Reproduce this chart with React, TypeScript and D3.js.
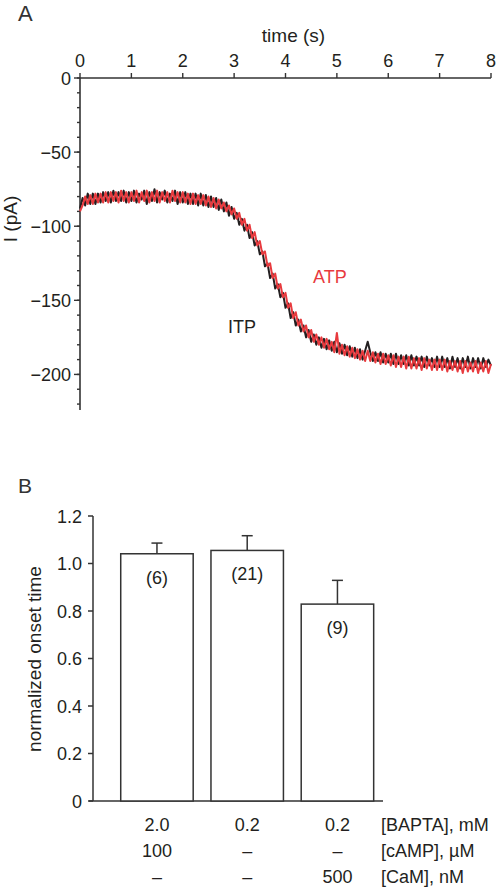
import React from "react";
import * as d3 from "d3";

// ---------- Panel A data (time step 0.05 s, 0..8 s) ----------
const timeStep = 0.05;
const itpTrace: number[] = [
  -88, -81, -86, -78, -85, -78, -85, -78, -84, -77, -83, -77, -84, -76, -83, -77, -83, -76, -84, -77,
  -83, -76, -84, -78, -82, -76, -85, -77, -83, -75, -84, -77, -82, -76, -84, -78, -83, -76, -85, -77,
  -84, -77, -85, -78, -85, -78, -86, -78, -86, -79, -87, -80, -87, -81, -89, -82, -90, -84, -93, -87,
  -95, -91, -99, -95, -103, -99, -108, -104, -113, -110, -119, -117, -127, -125, -135, -132, -142, -139, -148, -145,
  -155, -152, -162, -158, -167, -163, -171, -167, -175, -170, -178, -173, -180, -175, -182, -176, -183, -177, -184, -178,
  -185, -179, -186, -180, -187, -181, -188, -182, -189, -183, -190, -184, -178, -185, -191, -185, -191, -185, -192, -186,
  -192, -186, -193, -186, -193, -187, -193, -187, -194, -187, -194, -188, -194, -188, -195, -188, -194, -189, -195, -188,
  -195, -188, -195, -189, -196, -188, -195, -189, -196, -189, -195, -188, -196, -189, -195, -189, -196, -189, -195, -190, -194,
];
const atpTrace: number[] = [
  -90, -86, -80, -85, -79, -85, -78, -84, -78, -84, -77, -84, -77, -83, -77, -84, -76, -83, -77, -84,
  -77, -83, -76, -84, -77, -83, -76, -84, -77, -83, -76, -84, -77, -83, -77, -84, -76, -83, -77, -84,
  -77, -84, -78, -85, -78, -85, -79, -85, -79, -86, -80, -87, -81, -88, -82, -88, -84, -90, -86, -92,
  -88, -95, -91, -99, -95, -103, -99, -108, -104, -113, -110, -119, -117, -127, -125, -135, -132, -142, -139, -148,
  -145, -155, -152, -162, -158, -167, -163, -171, -167, -175, -170, -178, -173, -180, -175, -182, -176, -183, -178, -185,
  -172, -186, -180, -187, -181, -188, -182, -189, -183, -190, -184, -191, -184, -191, -185, -192, -186, -193, -186, -193,
  -187, -194, -187, -195, -188, -195, -188, -196, -188, -196, -189, -196, -189, -197, -189, -196, -190, -197, -190, -197,
  -190, -197, -190, -198, -191, -197, -191, -198, -191, -199, -191, -198, -192, -198, -191, -199, -192, -198, -191, -199, -193,
];
const timeTicks = [0, 1, 2, 3, 4, 5, 6, 7, 8];
const currentTicks = [0, -50, -100, -150, -200];
const currentMinorTicks = [0, -10, -20, -30, -40, -50, -60, -70, -80, -90, -100, -110, -120, -130, -140, -150, -160, -170, -180, -190, -200, -210, -220];

// ---------- Panel B data ----------
const conditions = ["c1", "c2", "c3"];
const onsetMeans = [1.041, 1.055, 0.829];
const onsetErrors = [0.045, 0.062, 0.1];
const nLabels = ["(6)", "(21)", "(9)"];
const onsetTicks = [0, 0.2, 0.4, 0.6, 0.8, 1.0, 1.2];
const onsetTickLabels = ["0", "0.2", "0.4", "0.6", "0.8", "1.0", "1.2"];
const tableRowLabels = ["[BAPTA], mM", "[cAMP], \u00b5M", "[CaM], nM"];
const bapta = ["2.0", "0.2", "0.2"];
const camp = ["100", "\u2013", "\u2013"];
const cam = ["\u2013", "\u2013", "500"];

const FONT = "'Liberation Sans', Arial, Helvetica, sans-serif";
const AXIS = "#333333";
const RED = "#e83a3e";
const BLACK = "#231f20";
const FS = 18;

export default function App() {
  // Panel A scales
  const x = d3.scaleLinear().domain([0, 8]).range([80, 491]);
  const y = d3.scaleLinear().domain([-224, 0]).range([410, 78]);
  const line = d3
    .line<number>()
    .x((_, i) => x(i * timeStep))
    .y((v) => y(v));

  // Panel B scales
  const xb = d3.scaleBand<string>().domain(conditions).range([111.7, 382.7]).paddingInner(0.197).paddingOuter(0.1);
  const yb = d3.scaleLinear().domain([0, 1.2]).range([801, 516]);
  const tableRows = [bapta, camp, cam];
  const rowY = [831, 857, 883];

  return (
    <svg
      width={498}
      height={889}
      style={{ position: "absolute", left: 0, top: 0, background: "#fff" }}
      fontFamily={FONT}
    >
      <rect x={0} y={0} width={498} height={889} fill="#fff" />
      {/* Panel A */}
      <text x={18} y={21} fontSize={22} fill={AXIS}>A</text>
      <text x={x(4) + 8} y={42} fontSize={19} textAnchor="middle" fill={BLACK}>time (s)</text>
      {timeTicks.map((t) => (
        <g key={"xt" + t}>
          <line x1={x(t)} x2={x(t)} y1={y(0)} y2={y(0) - 5} stroke={AXIS} strokeWidth={1.4} />
          <text x={x(t)} y={y(0) - 11} fontSize={FS} textAnchor="middle" fill={BLACK}>{t}</text>
        </g>
      ))}
      <line x1={x(0)} x2={x(8)} y1={y(0)} y2={y(0)} stroke={AXIS} strokeWidth={1.6} />
      <line x1={x(0)} x2={x(0)} y1={y(0)} y2={y(-224)} stroke={AXIS} strokeWidth={1.6} />
      {currentMinorTicks.map((v) => (
        <line key={"ym" + v} x1={x(0) - 3} x2={x(0)} y1={y(v)} y2={y(v)} stroke={AXIS} strokeWidth={1.4} />
      ))}
      {currentTicks.map((v) => (
        <g key={"yt" + v}>
          <line x1={x(0) - 6} x2={x(0)} y1={y(v)} y2={y(v)} stroke={AXIS} strokeWidth={1.4} />
          <text x={x(0) - 9} y={y(v) + 6.5} fontSize={FS} textAnchor="end" fill={BLACK}>
            {v < 0 ? "\u2212" + Math.abs(v) : v}
          </text>
        </g>
      ))}
      <text
        transform={`translate(17, 219) rotate(-90)`}
        fontSize={19}
        textAnchor="middle"
        fill={BLACK}
      >
        I (pA)
      </text>
      <path d={line(itpTrace) || ""} fill="none" stroke={BLACK} strokeWidth={2} strokeLinejoin="round" />
      <path d={line(atpTrace) || ""} fill="none" stroke={RED} strokeWidth={2} strokeLinejoin="round" />
      <text x={313} y={283} fontSize={FS} fill={RED}>ATP</text>
      <text x={228} y={333} fontSize={FS} fill={BLACK}>ITP</text>

      {/* Panel B */}
      <text x={18} y={493} fontSize={21} fill={AXIS}>B</text>
      <line x1={93} x2={93} y1={yb(1.2)} y2={yb(0)} stroke={AXIS} strokeWidth={1.5} />
      <line x1={89} x2={383} y1={yb(0)} y2={yb(0)} stroke={AXIS} strokeWidth={1.5} />
      {onsetTicks.map((v, i) => (
        <g key={"bt" + v}>
          <line x1={88} x2={93} y1={yb(v)} y2={yb(v)} stroke={AXIS} strokeWidth={1.5} />
          <text x={82} y={yb(v) + 6.5} fontSize={FS} textAnchor="end" fill={BLACK}>{onsetTickLabels[i]}</text>
        </g>
      ))}
      <text
        transform={`translate(41, 659) rotate(-90)`}
        fontSize={19}
        textAnchor="middle"
        fill={BLACK}
      >
        normalized onset time
      </text>
      {conditions.map((c, i) => {
        const bx = xb(c) as number;
        const bw = xb.bandwidth();
        const cx = bx + bw / 2;
        return (
          <g key={c}>
            <line x1={cx} x2={cx} y1={yb(onsetMeans[i])} y2={yb(onsetMeans[i] + onsetErrors[i])} stroke={AXIS} strokeWidth={1.5} />
            <line x1={cx - 5.5} x2={cx + 5.5} y1={yb(onsetMeans[i] + onsetErrors[i])} y2={yb(onsetMeans[i] + onsetErrors[i])} stroke={AXIS} strokeWidth={1.5} />
            <rect x={bx} y={yb(onsetMeans[i])} width={bw} height={yb(0) - yb(onsetMeans[i])} fill="#fff" stroke={AXIS} strokeWidth={1.5} />
            <text x={cx} y={yb(onsetMeans[i]) + 30} fontSize={FS} textAnchor="middle" fill={BLACK}>{nLabels[i]}</text>
            {tableRows.map((row, r) => (
              <text key={r} x={cx} y={rowY[r]} fontSize={FS} textAnchor="middle" fill={BLACK}>{row[i]}</text>
            ))}
          </g>
        );
      })}
      {tableRowLabels.map((lab, r) => (
        <text key={lab} x={381} y={rowY[r]} fontSize={FS} fill={BLACK}>{lab}</text>
      ))}
    </svg>
  );
}
